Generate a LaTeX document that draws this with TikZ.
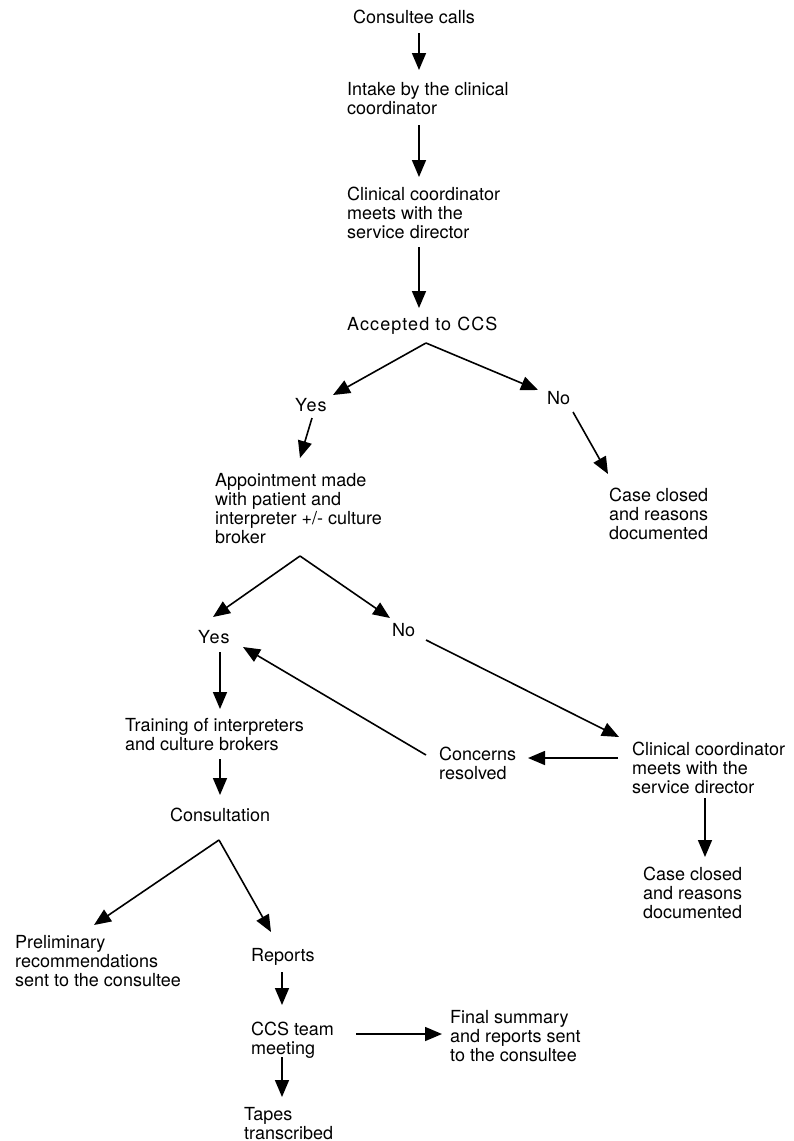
\documentclass[tikz,border=0pt]{standalone}
\usepackage{fontspec}
\setmainfont{TeX Gyre Heros}
\usetikzlibrary{arrows.meta,calc}
\tikzset{
  txt/.style={anchor=north west, inner sep=0pt, align=left, font=\fontsize{18}{19}\selectfont},
  arr/.style={line width=1.6pt, -{Triangle[length=17pt,width=14pt]}}
}
\begin{document}
\begin{tikzpicture}[x=1pt,y=-1pt]
\fill[white] (0,0) rectangle (794,1141);
\useasboundingbox (0,0) rectangle (794,1141);
% nodes
\node[txt] (n1) at (353,10) {Consultee calls};
\node[txt] (n2) at (347,82) {Intake by the clinical\\coordinator};
\node[txt] (n3) at (347,187) {Clinical coordinator\\meets with the\\service director};
\node[txt] (n4) at (347,317) {\addfontfeature{LetterSpace=6}Accepted to CCS};
\node[txt] (y1) at (295,398) {\addfontfeature{LetterSpace=6}Yes};
\node[txt] (no1) at (547,391) {No};
\node[txt] (n5) at (215,473) {Appointment made\\with patient and\\interpreter +/- culture\\broker};
\node[txt] (c1) at (609,488) {Case closed\\and reasons\\documented};
\node[txt] (y2) at (198,630) {\addfontfeature{LetterSpace=6}Yes};
\node[txt] (no2) at (392,623) {No};
\node[txt] (n6) at (125,718) {Training of interpreters\\and culture brokers};
\node[txt] (cr) at (439,747) {Concerns\\resolved};
\node[txt] (n7) at (632,742) {Clinical coordinator\\meets with the\\service director};
\node[txt] (c2) at (643,867) {Case closed\\and reasons\\documented};
\node[txt] (n8) at (170,808) {Consultation};
\node[txt] (p) at (15,935) {Preliminary\\recommendations\\sent to the consultee};
\node[txt] (r) at (251,948) {Reports};
\node[txt] (t) at (251,1022) {CCS team\\meeting};
\node[txt] (f) at (450,1010) {Final summary\\and reports sent\\to the consultee};
\node[txt] (tp) at (244,1107) {Tapes\\transcribed};
% connectors
\draw[arr] ($(n1.north west)+(66,23)$) -- ($(n2.north west)+(72,-12)$);
\draw[arr] ($(n2.north west)+(72,43)$) -- ($(n3.north west)+(72,-10)$);
\draw[arr] ($(n3.north west)+(72,60)$) -- ($(n4.north west)+(72,-9)$);
\draw[arr] ($(n4.north west)+(79,26)$) -- ($(y1.north west)+(38,-3)$);
\draw[arr] ($(n4.north west)+(79,26)$) -- ($(no1.north west)+(-9,-1)$);
\draw[arr] ($(y1.north west)+(17,20)$) -- ($(n5.north west)+(85,-15)$);
\draw[arr] ($(no1.north west)+(26,21)$) -- ($(c1.north west)+(-1,-14)$);
\draw[arr] ($(n5.north west)+(85,83)$) -- ($(y2.north west)+(15,-13)$);
\draw[arr] ($(n5.north west)+(85,83)$) -- ($(no2.north west)+(-2,-5)$);
\draw[arr] ($(y2.north west)+(22,22)$) -- ($(n6.north west)+(95,-9)$);
\draw[arr] ($(no2.north west)+(34,17)$) -- ($(n7.north west)+(-13,-5)$);
\draw[arr] ($(n7.north west)+(-14,16)$) -- ($(cr.north west)+(89,11)$);
\draw[arr] ($(cr.north west)+(-13,8)$) -- ($(y2.north west)+(45,17)$);
\draw[arr] ($(n7.north west)+(73,56)$) -- ($(c2.north west)+(62,-10)$);
\draw[arr] ($(n6.north west)+(95,41)$) -- ($(n8.north west)+(50,-13)$);
\draw[arr] ($(n8.north west)+(49,32)$) -- ($(p.north west)+(79,-10)$);
\draw[arr] ($(n8.north west)+(49,32)$) -- ($(r.north west)+(20,-16)$);
\draw[arr] ($(r.north west)+(31,24)$) -- ($(t.north west)+(31,-17)$);
\draw[arr] ($(t.north west)+(105,12)$) -- ($(f.north west)+(-8,24)$);
\draw[arr] ($(t.north west)+(31,35)$) -- ($(tp.north west)+(38,-10)$);
\end{tikzpicture}
\end{document}
